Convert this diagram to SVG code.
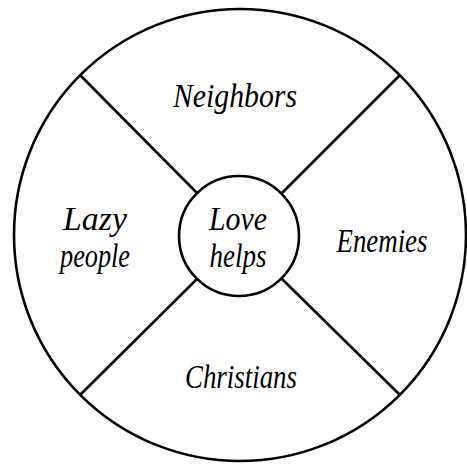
<svg xmlns="http://www.w3.org/2000/svg" width="467" height="464" viewBox="0 0 467 464">
<style>
.ln{stroke:#000;stroke-width:2.6;fill:none}
.t{font-family:"Liberation Serif",serif;font-style:italic;font-size:34px;fill:#000;text-anchor:middle}
</style>
<rect width="467" height="464" fill="#fff"/>
<g id="outer"><circle class="ln" cx="240" cy="235" r="226"/></g>
<g id="connectors">
<line class="ln" x1="80" y1="75" x2="197" y2="193"/>
<line class="ln" x1="400" y1="75" x2="282" y2="193"/>
<line class="ln" x1="80" y1="395" x2="197" y2="279"/>
<line class="ln" x1="400" y1="395" x2="282" y2="279"/>
</g>
<g id="center"><circle class="ln" cx="239" cy="236" r="60"/>
<text class="t" x="238" y="230" textLength="58" lengthAdjust="spacingAndGlyphs">Love</text>
<text class="t" x="238" y="267" textLength="57" lengthAdjust="spacingAndGlyphs">helps</text></g>
<g id="neighbors"><text class="t" x="235" y="107" textLength="124" lengthAdjust="spacingAndGlyphs">Neighbors</text></g>
<g id="lazy"><text class="t" x="95" y="230" textLength="64" lengthAdjust="spacingAndGlyphs">Lazy</text>
<text class="t" x="95" y="267" textLength="70" lengthAdjust="spacingAndGlyphs">people</text></g>
<g id="enemies"><text class="t" x="382" y="252" textLength="91" lengthAdjust="spacingAndGlyphs">Enemies</text></g>
<g id="christians"><text class="t" x="241" y="388" textLength="112" lengthAdjust="spacingAndGlyphs">Christians</text></g>
</svg>
